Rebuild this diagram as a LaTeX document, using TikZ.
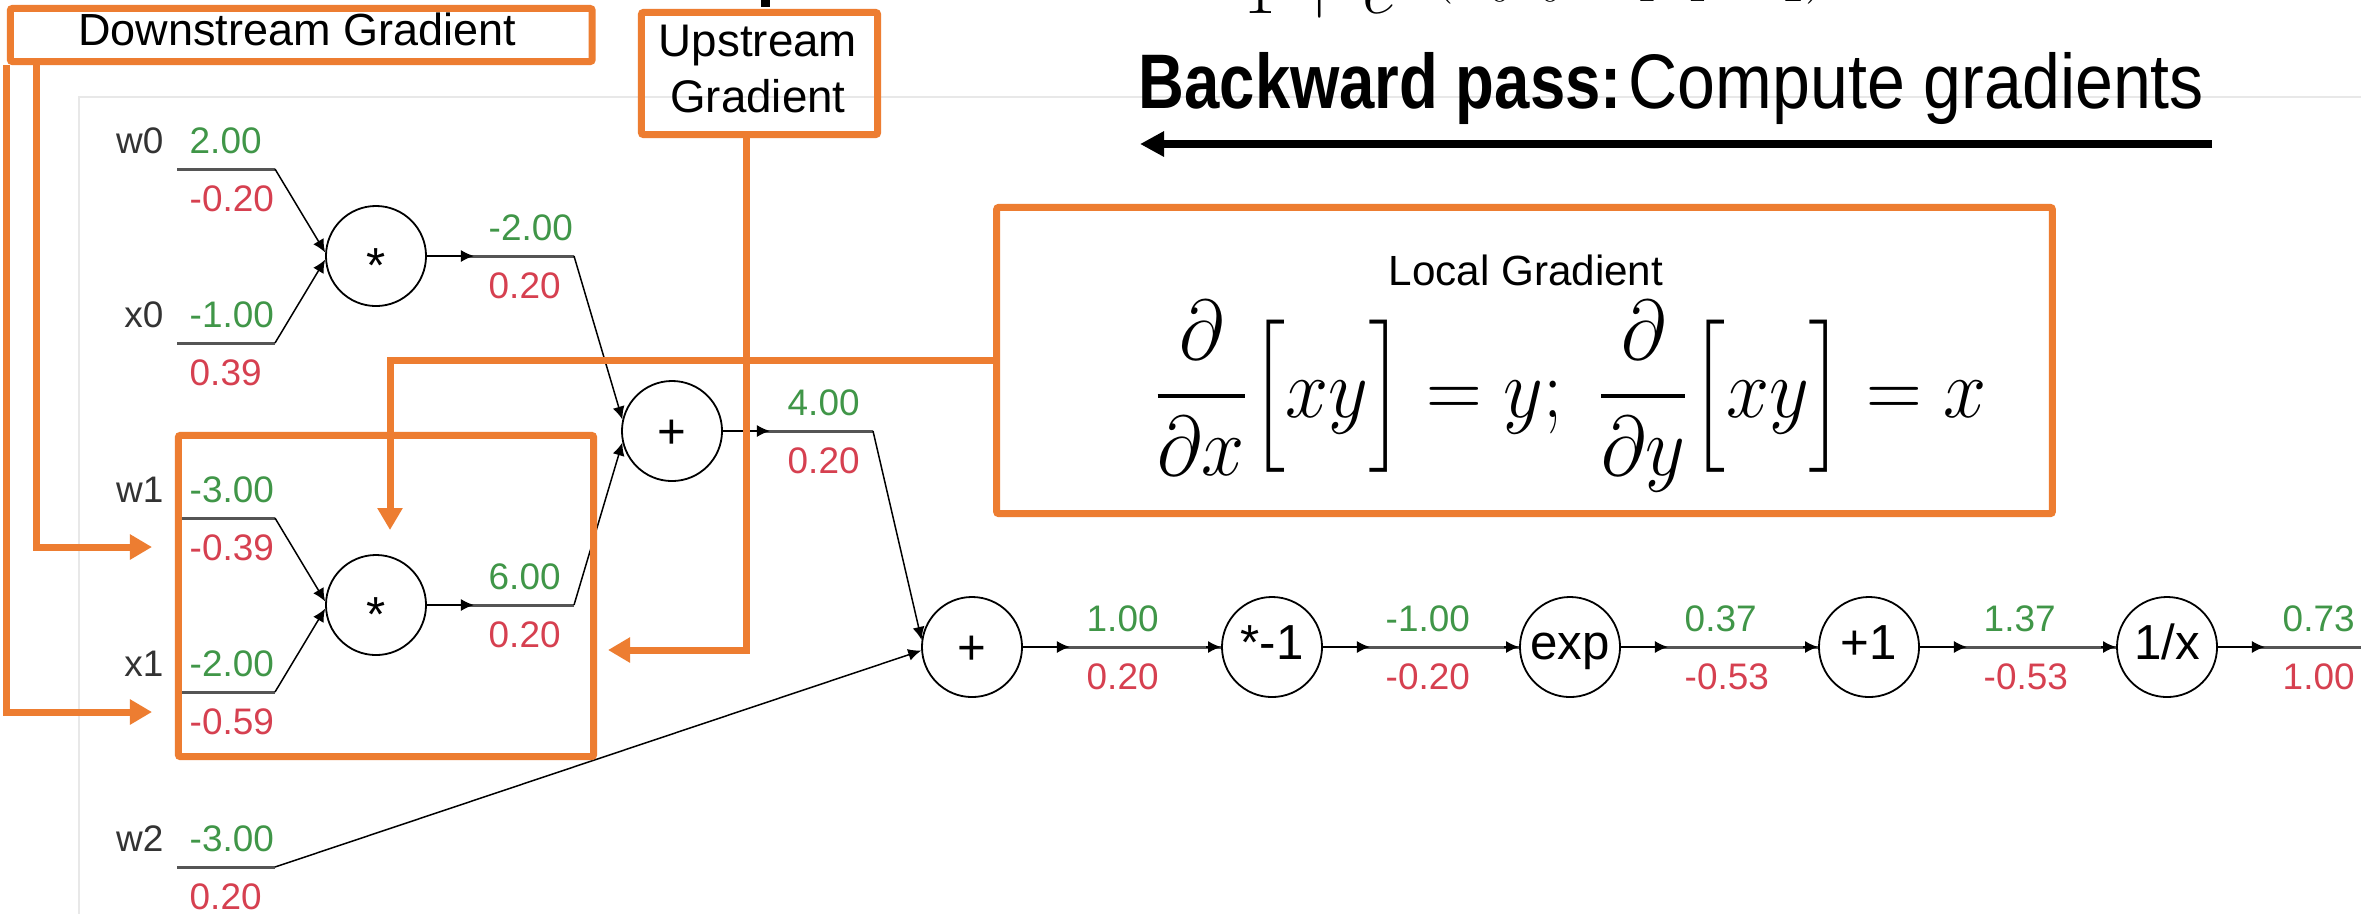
\documentclass[tikz,border=0pt]{standalone}
\usepackage[no-math]{fontspec}
\usepackage{mathtools}
\setmainfont{Liberation Sans}
\usetikzlibrary{arrows.meta,calc}
\definecolor{ogr}{RGB}{237,125,49}
\definecolor{vgreen}{RGB}{64,150,72}
\definecolor{vred}{RGB}{214,64,80}
\definecolor{lblgray}{RGB}{51,51,51}
\definecolor{vlinegray}{RGB}{85,85,85}
\definecolor{framegray}{RGB}{232,232,232}
\begin{document}
\begin{tikzpicture}[x=0.01cm,y=-0.01cm,
  obox/.style={draw=ogr,line width=0.07cm,rounded corners=0.02cm,inner sep=0pt},
  oline/.style={draw=ogr,line width=0.07cm,-{Triangle[length=0.22cm,width=0.24cm]}},
  opnode/.style={circle,draw,line width=0.018cm,minimum size=1cm,inner sep=0pt,
     text height=7.1pt,text depth=0pt,font=\fontsize{14}{14}\selectfont},
  vtxt/.style={text=vgreen,anchor=base west,inner sep=0pt,font=\fontsize{10.5}{10.5}\selectfont},
  gtxt/.style={text=vred,anchor=base west,inner sep=0pt,font=\fontsize{10.5}{10.5}\selectfont},
  ltxt/.style={text=lblgray,anchor=base east,inner sep=0pt,font=\fontsize{10.5}{10.5}\selectfont},
  vseg/.style={draw=vlinegray,line width=0.03cm},
  ed/.style={draw=black,line width=0.015cm,-{Latex[length=0.13cm,width=0.12cm]}},
]
\useasboundingbox (0,0) rectangle (2361,914);
\fill[white] (0,0) rectangle (2361,914);
% faint frame of the graph screenshot
\draw[framegray,line width=0.015cm] (2361,97) -- (79,97) -- (79,914);
% clipped formula at the top
\begin{scope}
\clip (0,0) rectangle (2361,914);
\node[anchor=base west,inner sep=0pt,font=\fontsize{20.74}{24}\selectfont] (topf) at (1243,13) {$\cramped{1+e^{-(w_0x_0+w_1x_1+w_2)}}$};
\fill (761,0) rectangle (770,7);
\end{scope}

% ---------- graph ----------
\node[opnode] (m1) at (376,256) {\raisebox{-4pt}{*}};
\node[opnode] (m2) at (376,605) {\raisebox{-4pt}{*}};
\node[opnode] (a1) at (672,431) {\raisebox{-1.3pt}{+}};
\node[opnode] (a2) at (972,647) {\raisebox{-1.3pt}{+}};
\node[opnode] (n1) at (1272,647) {*-1};
\node[opnode] (e1) at (1570,647) {exp};
\node[opnode] (p1) at (1869,647) {+1};
\node[opnode] (r1) at (2167,647) {1/x};

% inputs
\foreach \nm/\L/\v/\g in {w0/169/2.00/-0.20, x0/343/-1.00/0.39, w1/518/-3.00/-0.39, x1/692/-2.00/-0.59, w2/867/-3.00/0.20}{
  \coordinate (\nm s) at (177,\L);
  \coordinate (\nm e) at (275,\L);
  \draw[vseg] (\nm s) -- (\nm e);
  \node[ltxt] (\nm lab) at (164,\L-16) {\nm};
  \node[vtxt] (\nm val) at (189,\L-16) {\v};
  \node[gtxt] (\nm grd) at (189,\L+42) {\g};
}
\draw[ed] (w0e) -- (m1.176);
\draw[ed] (x0e) -- (m1.184);
\draw[ed] (w1e) -- (m2.176);
\draw[ed] (x1e) -- (m2.184);
\draw[ed] (w2e) -- (a2.184);

% mul outputs
\coordinate (m1o) at (574,256);
\draw[vseg] ($(m1.east)+(34,0)$) -- (m1o);
\draw[ed] (m1.east) -- ++(47,0);
\draw[ed] (m1o) -- (a1.167);
\node[vtxt] (m1val) at (488,240) {-2.00};
\node[gtxt] (m1grd) at (488,298) {0.20};

\coordinate (m2o) at (574,605);
\draw[vseg] ($(m2.east)+(34,0)$) -- (m2o);
\draw[ed] (m2.east) -- ++(47,0);
\draw[ed] (m2o) -- (a1.193);
\node[vtxt] (m2val) at (488,589) {6.00};
\node[gtxt] (m2grd) at (488,647) {0.20};

% add output
\coordinate (a1o) at (873,431);
\draw[vseg] ($(a1.east)+(34,0)$) -- (a1o);
\draw[ed] (a1.east) -- ++(47,0);
\draw[ed] (a1o) -- (a2.172);
\node[vtxt] (a1val) at (787,415) {4.00};
\node[gtxt] (a1grd) at (787,473) {0.20};

% bottom chain
\foreach \s/\t/\xx/\v/\g in {a2/n1/1086/1.00/0.20, n1/e1/1385/-1.00/-0.20, e1/p1/1684/0.37/-0.53, p1/r1/1983/1.37/-0.53}{
  \draw[vseg] ($(\s.east)+(34,0)$) -- (\t.west);
  \draw[ed] (\s.east) -- ++(47,0);
  \draw[ed] ($(\t.west)+(-15,0)$) -- (\t.west);
  \node[vtxt] (\s val) at (\xx,631) {\v};
  \node[gtxt] (\s grd) at (\xx,689) {\g};
}
\coordinate (outend) at (2361,647);
\draw[vseg] ($(r1.east)+(34,0)$) -- (outend);
\draw[ed] (r1.east) -- ++(47,0);
\node[vtxt] (r1val) at (2282,631) {0.73};
\node[gtxt] (r1grd) at (2282,689) {1.00};

% ---------- title and backward arrow ----------
\node[anchor=base west,inner sep=0pt,font=\fontsize{22}{22}\selectfont] (bp) at (1138,108)
  {\scalebox{0.82}[1]{\textbf{Backward pass:}}\hspace{2pt}\scalebox{0.88}[1]{Compute gradients}};
\coordinate (bws) at (2212,144);
\coordinate (bwe) at (1140,144);
\draw[line width=0.08cm,-{Triangle[length=0.24cm,width=0.24cm]}] (bws) -- (bwe);

% ---------- orange annotations ----------
\node[obox,minimum width=5.815cm,minimum height=0.53cm] (ds) at (301.25,35) {};
\node[anchor=base,inner sep=0pt,font=\fontsize{12.8}{12.8}\selectfont] (dst) at (297,45) {Downstream Gradient};
\coordinate (dsa) at (152,712);
\coordinate (dsb) at (152,547);
\draw[oline] (ds.south west) |- (dsa);
\draw[oline] ($(ds.south west)+(29.5,0)$) |- (dsb);

\node[obox,minimum width=2.36cm,minimum height=1.22cm] (us) at (759.5,73.5) {};
\node[align=center,inner sep=0pt,font=\fontsize{13}{15.65}\selectfont] (ust) at (758,69) {Upstream\\Gradient};
\coordinate (usa) at (608,650);
\draw[oline] ($(us.south)+(-13.5,0)$) |- (usa);

\node[obox,minimum width=4.15cm,minimum height=3.21cm] (lb) at (386,596) {};

\node[obox,minimum width=10.55cm,minimum height=3.06cm] (lg) at (1524.5,360.5) {};
\node[anchor=base,inner sep=0pt,font=\fontsize{12}{12}\selectfont] (lgt) at (1526,285) {Local Gradient};
\node[anchor=base,inner sep=0pt,font=\fontsize{20.74}{25}\selectfont] (lgm) at (1570,417)
  {\scalebox{1.06}[1.16]{$\displaystyle \frac{\partial}{\partial x}\Big[xy\Big]=y;\ \frac{\partial}{\partial y}\Big[xy\Big]=x$}};
\coordinate (lga) at (390,530);
\draw[oline] (lg.west) -| (lga);
\end{tikzpicture}
\end{document}
